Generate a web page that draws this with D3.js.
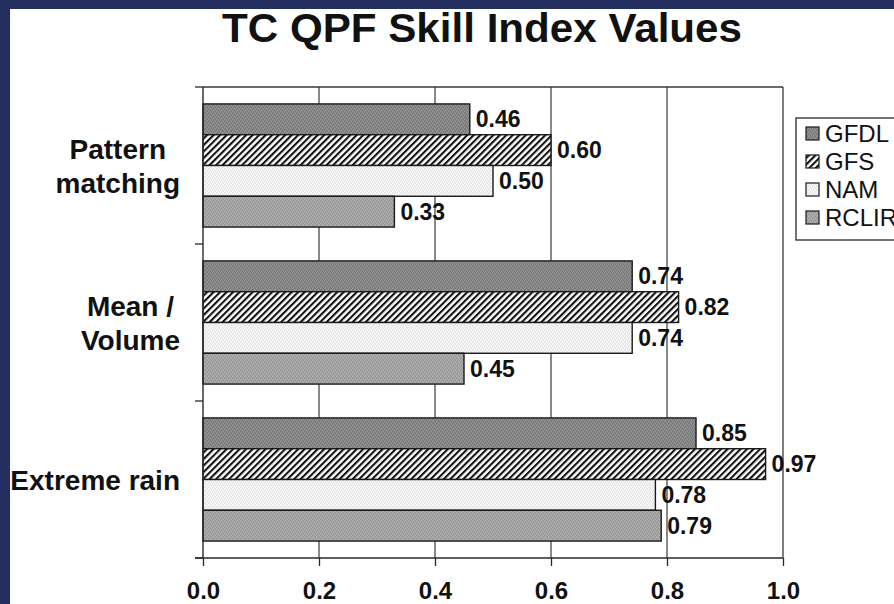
<!DOCTYPE html>
<html>
<head>
<meta charset="utf-8">
<script src="https://cdn.jsdelivr.net/npm/d3@7"></script>
<style>
  html, body { margin: 0; padding: 0; background: #ffffff; }
  svg { display: block; }
  text { font-family: "Liberation Sans", Arial, Helvetica, sans-serif; fill: #111; }
</style>
</head>
<body>
<script>
// Skill index values per verification category and model
const categories = ["Pattern matching", "Mean / Volume", "Extreme rain"];
const categoryLines = [["Pattern", "matching"], ["Mean /", "Volume"], ["Extreme rain"]];
const models = ["GFDL", "GFS", "NAM", "RCLIR"];
const gfdl  = [0.46, 0.74, 0.85];
const gfs   = [0.60, 0.82, 0.97];
const nam   = [0.50, 0.74, 0.78];
const rclir = [0.33, 0.45, 0.79];
const xTicks = [0.0, 0.2, 0.4, 0.6, 0.8, 1.0];

const seriesValues = { GFDL: gfdl, GFS: gfs, NAM: nam, RCLIR: rclir };

const W = 894, H = 604;
const plot = { left: 203, right: 783, top: 87, bottom: 558 };

const svg = d3.select("body").append("svg")
  .attr("width", W).attr("height", H);

// frame around the slide
svg.append("rect").attr("width", W).attr("height", H).attr("fill", "#23305f");
svg.append("rect").attr("x", 10).attr("y", 9).attr("width", W - 10).attr("height", H - 9).attr("fill", "#ffffff");

const defs = svg.append("defs");

// diagonal hatch for GFS
const hatch = defs.append("pattern")
  .attr("id", "hatch").attr("patternUnits", "userSpaceOnUse")
  .attr("width", 4.6).attr("height", 4.6)
  .attr("patternTransform", "rotate(45)");
hatch.append("rect").attr("width", 4.6).attr("height", 4.6).attr("fill", "#ffffff");
hatch.append("rect").attr("x", 0).attr("width", 2.1).attr("height", 4.6).attr("fill", "#111");

// speckled grey fills
function speckle(id, base, light, dark) {
  const p = defs.append("pattern").attr("id", id)
    .attr("patternUnits", "userSpaceOnUse").attr("width", 4).attr("height", 4);
  p.append("rect").attr("width", 4).attr("height", 4).attr("fill", base);
  [[0, 0], [2, 1], [1, 3], [3, 2]].forEach(([a, b]) =>
    p.append("rect").attr("x", a).attr("y", b).attr("width", 1).attr("height", 1).attr("fill", light));
  [[1, 1], [3, 0], [0, 2], [2, 3]].forEach(([a, b]) =>
    p.append("rect").attr("x", a).attr("y", b).attr("width", 1).attr("height", 1).attr("fill", dark));
}
speckle("gfdlFill", "#858585", "#959595", "#767676");
speckle("rclirFill", "#a3a3a3", "#b2b2b2", "#959595");
speckle("namFill", "#efefef", "#f8f8f8", "#e6e6e6");

const fills = { GFDL: "url(#gfdlFill)", GFS: "url(#hatch)", NAM: "url(#namFill)", RCLIR: "url(#rclirFill)" };

// scales
const x = d3.scaleLinear().domain([0, 1]).range([plot.left, plot.right]);
const y = d3.scaleBand().domain(categories).range([plot.top, plot.bottom]).padding(0);
const yInner = d3.scaleBand().domain(models).range([0, y.bandwidth()])
  .paddingInner(0).paddingOuter(0.55);

// title
svg.append("text")
  .attr("x", 482).attr("y", 42)
  .attr("text-anchor", "middle")
  .attr("font-size", 40).attr("font-weight", "bold")
  .attr("textLength", 520).attr("lengthAdjust", "spacingAndGlyphs")
  .text("TC QPF Skill Index Values");

// vertical gridlines
svg.append("g").selectAll("line")
  .data(xTicks.filter(d => d > 0 && d < 1))
  .join("line")
  .attr("x1", d => x(d)).attr("x2", d => x(d))
  .attr("y1", plot.top).attr("y2", plot.bottom)
  .attr("stroke", "#3a3a3a").attr("stroke-width", 1.2);

// plot frame: top and right edges
svg.append("line").attr("x1", plot.left).attr("x2", plot.right)
  .attr("y1", plot.top).attr("y2", plot.top)
  .attr("stroke", "#3a3a3a").attr("stroke-width", 1.3);
svg.append("line").attr("x1", plot.right).attr("x2", plot.right)
  .attr("y1", plot.top).attr("y2", plot.bottom)
  .attr("stroke", "#3a3a3a").attr("stroke-width", 1.3);

// bars
const groups = svg.append("g").selectAll("g")
  .data(categories)
  .join("g")
  .attr("transform", d => `translate(0,${y(d)})`);

groups.each(function (cat, ci) {
  const g = d3.select(this);
  const rows = models.map(m => ({ model: m, value: seriesValues[m][ci] }));
  g.selectAll("rect")
    .data(rows)
    .join("rect")
    .attr("x", x(0))
    .attr("y", d => yInner(d.model))
    .attr("width", d => x(d.value) - x(0))
    .attr("height", yInner.bandwidth())
    .attr("fill", d => fills[d.model])
    .attr("stroke", "#1a1a1a").attr("stroke-width", 1.4);
  g.selectAll("text.val")
    .data(rows)
    .join("text")
    .attr("class", "val")
    .attr("x", d => x(d.value) + 6)
    .attr("y", d => yInner(d.model) + yInner.bandwidth() / 2 + 8)
    .attr("font-size", 23).attr("font-weight", "bold")
    .text(d => d3.format(".2f")(d.value));
});

// x axis
const xAxis = d3.axisBottom(x).tickValues(xTicks).tickFormat(d3.format(".1f"))
  .tickSize(8).tickPadding(22);
const gx = svg.append("g").attr("transform", `translate(0,${plot.bottom})`).call(xAxis);
gx.select(".domain").remove();
gx.append("line").attr("x1", plot.left - 8).attr("x2", plot.right)
  .attr("stroke", "#2a2a2a").attr("stroke-width", 1.4);
gx.selectAll(".tick line").attr("stroke", "#2a2a2a").attr("stroke-width", 1.3);
gx.selectAll(".tick text")
  .attr("font-size", 24).attr("font-weight", "bold")
  .attr("font-family", "Liberation Sans, Arial, sans-serif")
  .attr("fill", "#111")
  .attr("dy", null).attr("y", 41);

// y axis: line plus ticks at category boundaries
const gy = svg.append("g");
gy.append("line").attr("x1", plot.left).attr("x2", plot.left)
  .attr("y1", plot.top).attr("y2", plot.bottom)
  .attr("stroke", "#2a2a2a").attr("stroke-width", 1.4);
gy.selectAll("line.tick")
  .data(categories.map(c => y(c)).concat([plot.bottom]))
  .join("line").attr("class", "tick")
  .attr("x1", plot.left - 8).attr("x2", plot.left)
  .attr("y1", d => d).attr("y2", d => d)
  .attr("stroke", "#2a2a2a").attr("stroke-width", 1.3);

// category labels: lines centred on each other, block right-aligned
const labelRight = 180, lineH = 34, catFont = 28;
categories.forEach((cat, i) => {
  const lines = categoryLines[i];
  const t = svg.append("text")
    .attr("font-size", catFont).attr("font-weight", "bold")
    .attr("text-anchor", "middle");
  const spans = lines.map(l => t.append("tspan").text(l));
  const maxW = d3.max(spans, s => s.node().getComputedTextLength());
  const cx = labelRight - maxW / 2;
  const mid = y(cat) + y.bandwidth() / 2;
  const firstBase = mid - (lines.length - 1) * lineH / 2 + catFont * 0.36;
  spans.forEach((s, k) => s.attr("x", cx).attr("y", firstBase + k * lineH));
});

// legend (its right part runs past the page edge)
const lg = svg.append("g");
lg.append("rect").attr("x", 796).attr("y", 118).attr("width", 120).attr("height", 122)
  .attr("fill", "#ffffff").attr("stroke", "#2a2a2a").attr("stroke-width", 1.3);
models.forEach((m, i) => {
  const cy = 133 + i * 28;
  lg.append("rect").attr("x", 806).attr("y", cy - 6).attr("width", 13).attr("height", 13)
    .attr("fill", fills[m]).attr("stroke", "#1a1a1a").attr("stroke-width", 1.2);
  lg.append("text").attr("x", 825).attr("y", cy + 8.5)
    .attr("font-size", 24).text(m);
});
</script>
</body>
</html>
